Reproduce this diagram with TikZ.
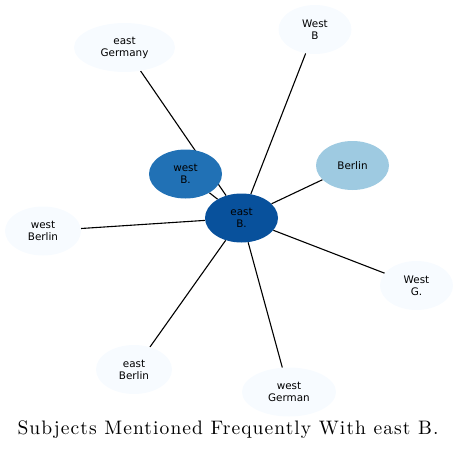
\documentclass[tikz,border=0pt]{standalone}
\usepackage{fontspec}
\newfontfamily\labelfont{DejaVu Sans}
\newfontfamily\titlefont{lmroman10-regular}[Extension=.otf,LetterSpace=5.6]
\usetikzlibrary{shapes.geometric, backgrounds}
\definecolor{paleblue}{RGB}{247,251,255}
\definecolor{lightblue}{RGB}{158,202,225}
\definecolor{midblue}{RGB}{33,113,181}
\definecolor{darkblue}{RGB}{8,81,156}

\begin{document}
\begin{tikzpicture}[x=1pt,y=-1pt,
    myblob/.style={ellipse,minimum width=73pt,minimum height=49pt,inner sep=0pt,align=center,fill=paleblue,font=\labelfont\fontsize{10.4}{12}\selectfont},
    mylink/.style={line width=1.1pt}]
    \useasboundingbox (0,0) rectangle (458,452);
    \node[myblob,fill=darkblue] (eastB) at (241.5,218) {east\\B.};
    \node[myblob,fill=midblue] (westB) at (185.5,174) {west\\B.};
    \node[myblob,fill=lightblue] (Berlin) at (352.5,165.5) {Berlin};
    \node[myblob,minimum width=101pt] (eastGermany) at (124.5,47.5) {east\\Germany};
    \node[myblob] (WestB) at (315,29.5) {West\\B};
    \node[myblob,minimum width=76pt] (westBerlin) at (43,231) {west\\Berlin};
    \node[myblob] (WestG) at (416.5,285.5) {West\\G.};
    \node[myblob,minimum width=76pt] (eastBerlin) at (134,369.5) {east\\Berlin};
    \node[myblob,minimum width=94pt] (westGerman) at (289,392) {west\\German};
    \begin{scope}[on background layer]
        \foreach \other in {eastGermany,WestB,westB,Berlin,westBerlin,WestG,eastBerlin,westGerman}
            \draw[mylink] (eastB) -- (\other);
    \end{scope}
    \node[font=\titlefont\fontsize{19.5}{22}\selectfont] (title) at (228,430) {Subjects Mentioned Frequently With east B.};
\end{tikzpicture}
\end{document}
